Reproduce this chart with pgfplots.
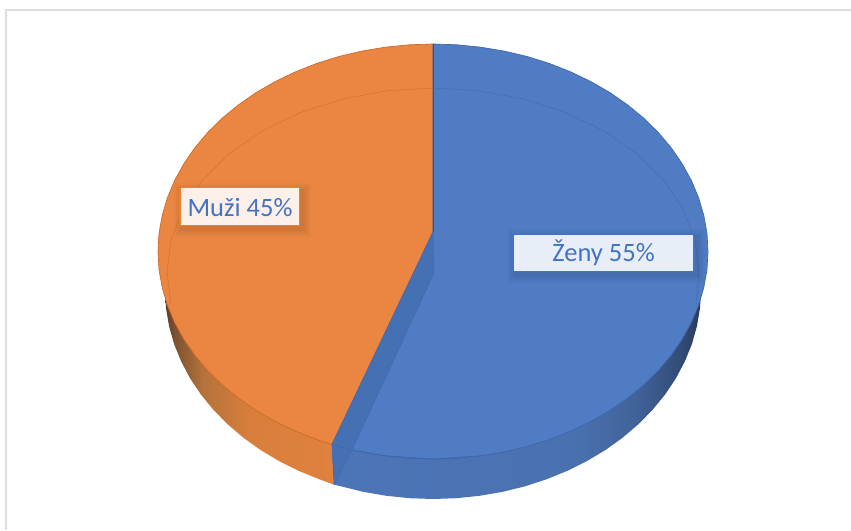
\documentclass[border=0pt]{standalone}
\usepackage{fontspec}
\setmainfont{Carlito}
\usepackage{pgfplots}
\usepackage{pgfplotstable}
\pgfplotsset{compat=1.18}

\definecolor{blueface}{HTML}{507CC4}
\definecolor{blueedge}{HTML}{3F66AC}
\definecolor{bluecut}{HTML}{4570B4}
\definecolor{orangeface}{HTML}{EA8642}
\definecolor{orangeedge}{HTML}{CE6A28}
\definecolor{orangebox}{HTML}{ED7D31}
\definecolor{labelblue}{HTML}{4472C4}
\definecolor{bw1}{HTML}{4C75B8}
\definecolor{bw2}{HTML}{4A71AF}
\definecolor{bw3}{HTML}{41639A}
\definecolor{bw4}{HTML}{334D78}
\definecolor{bw5}{HTML}{2A3C5C}
\definecolor{ow1}{HTML}{5A3E2C}
\definecolor{ow2}{HTML}{7C5232}
\definecolor{ow3}{HTML}{B4723A}
\definecolor{ow4}{HTML}{D87E3C}
\definecolor{ow5}{HTML}{E0823E}

\pgfdeclarehorizontalshading{bluewall}{100bp}{
  color(0bp)=(bw1); color(25bp)=(bw1); color(58bp)=(bw2);
  color(66bp)=(bw3); color(72bp)=(bw4); color(75bp)=(bw5); color(100bp)=(bw5)}
\pgfdeclarehorizontalshading{orangewall}{100bp}{
  color(0bp)=(ow1); color(25bp)=(ow1); color(28bp)=(ow2);
  color(36bp)=(ow3); color(50bp)=(ow4); color(75bp)=(ow5); color(100bp)=(ow5)}

% top face, blue slice (pixel coordinates)
\pgfplotstableread{
x y
433 232
433 44
457 44.8
480.8 47.2
504.2 51.1
527.1 56.5
549.2 63.4
570.5 71.8
590.7 81.5
609.8 92.5
627.5 104.8
643.7 118.1
658.3 132.5
671.2 147.8
682.2 163.8
691.4 180.5
698.6 197.8
703.8 215.5
707 233.4
708 251.5
707 269.6
703.8 287.5
698.6 305.2
691.4 322.5
682.2 339.2
671.2 355.2
658.3 370.5
643.7 384.9
627.5 398.2
609.8 410.5
590.7 421.5
570.5 431.2
549.2 439.6
527.1 446.5
504.2 451.9
480.8 455.8
457 458.2
433 459
409 458.2
385.2 455.8
361.8 451.9
338.9 446.5
332 444.5
433 232
}\bluetop

% top face, orange slice
\pgfplotstableread{
x y
433 232
332 444.5
316.8 439.6
295.5 431.2
275.3 421.5
256.2 410.5
238.5 398.2
222.3 384.9
207.7 370.5
194.8 355.2
183.8 339.2
174.6 322.5
167.4 305.2
162.2 287.5
159 269.6
158 251.5
159 233.4
162.2 215.5
167.4 197.8
174.6 180.5
183.8 163.8
194.8 147.8
207.7 132.5
222.3 118.1
238.5 104.8
256.2 92.5
275.3 81.5
295.5 71.8
316.8 63.4
338.9 56.5
361.8 51.1
385.2 47.2
409 44.8
433 44
433 232
}\orangetop

% wall under the blue slice
\pgfplotstableread{
x y
701 290
700 308.2
696.9 326.3
691.9 344.1
684.8 361.5
675.9 378.3
665.1 394.5
652.5 409.9
638.3 424.3
622.5 437.8
605.3 450.1
586.7 461.2
567 471
546.3 479.4
524.7 486.4
502.4 491.9
479.5 495.8
456.4 498.2
433 499
409.6 498.2
386.5 495.8
363.6 491.9
341.3 486.4
333.5 484.5
332 444
433 400
700 280
}\bluewall

% wall under the orange slice
\pgfplotstableread{
x y
333.5 484.5
319.7 479.4
299 471
279.3 461.2
260.7 450.1
243.5 437.8
227.7 424.3
213.5 409.9
200.9 394.5
190.1 378.3
181.2 361.5
174.1 344.1
169.1 326.3
166 308.2
165 290
168 280
332 444
}\orangewall

% cut face of the blue slice, seen through it
\pgfplotstableread{
x y
433 232
434 273
352 450
334 485
332 444.5
433 232
}\cutface

% bevel line on the top face
\pgfplotstableread{
x y
696 304
699 272
695 240
683 209.1
663.4 180
636.8 153.7
604 131
566 112.7
524 99.1
479.2 90.8
433 88
}\bevelblue
\pgfplotstableread{
x y
433 88
386.8 90.8
342 99.1
300 112.7
262 131
229.2 153.7
202.6 180
183 209.1
171 240
167 272
171 304
}\bevelorange

\begin{document}
\begin{tikzpicture}
\begin{axis}[
    scale only axis,
    width=851pt,
    height=530pt,
    xmin=0, xmax=851,
    ymin=0, ymax=530,
    y dir=reverse,
    hide axis,
    every axis plot/.append style={no markers, line join=round},
]
% hide axis leaves the box to the drawn paths, so give it the full page
\path (axis cs:0,0) rectangle (axis cs:851,530);

% frame of the slide
\addplot[color=black!13, line width=1.4pt] coordinates {(6,530) (6,10) (851,10)};

% walls
\addplot[draw=none, shading=bluewall] table {\bluewall};
\addplot[draw=none, shading=orangewall] table {\orangewall};

% top faces
\addplot[draw=orangeedge, line width=0.7pt, fill=orangeface] table {\orangetop};
\addplot[draw=blueedge, line width=0.7pt, fill=blueface] table {\bluetop};

% bevel lines
\addplot[color=orangeedge!70!orangeface, line width=0.5pt] table {\bevelorange};
\addplot[color=blueedge!70!blueface, line width=0.5pt] table {\bevelblue};

% cut face
\addplot[draw=blueedge!60!bluecut, line width=0.4pt, fill=bluecut] table {\cutface};
\addplot[color=blueedge, line width=0.7pt] coordinates {(332,444.5) (352,450) (385.2,455.8) (433,459) (480.8,455.8)};
\addplot[color=black!35!blueface, line width=0.9pt] coordinates {(433,44) (433,232)};

% label shadows
\foreach \g/\o in {8/0.02, 6/0.025, 4/0.03, 2/0.035} {
  \edef\temp{\noexpand\fill[black, opacity=\o]
    (axis cs:{182-\g},{190.5-\g}) rectangle (axis cs:{302.5+\g},{228.7+\g});
    \noexpand\fill[black, opacity=\o]
    (axis cs:{515-\g},{237-\g}) rectangle (axis cs:{697+\g},{274.7+\g});}
  \temp
}

% labels
\draw[draw=orangebox, line width=1.3pt, fill=white!88!orangeface]
  (axis cs:180,187.5) rectangle (axis cs:299.5,225.7);
\draw[draw=labelblue, line width=1.3pt, fill=white!87!blueface]
  (axis cs:513,234) rectangle (axis cs:694,271.7);
\node[text=labelblue, font=\fontsize{26.5}{30}\selectfont] at (axis cs:240,207) {Muži 45\%};
\node[text=labelblue, font=\fontsize{26.5}{30}\selectfont] at (axis cs:603.5,253) {Ženy 55\%};
\end{axis}
\end{tikzpicture}
\end{document}
